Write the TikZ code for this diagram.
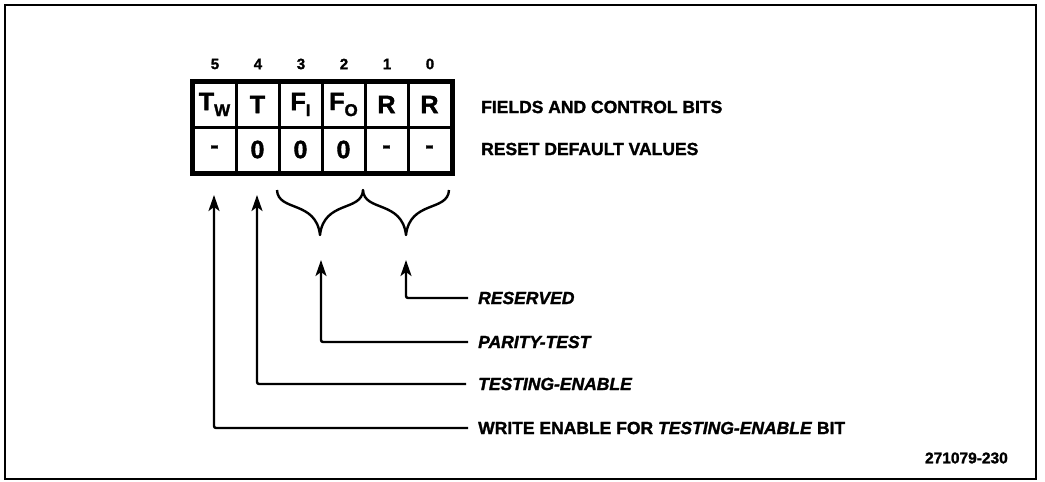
\documentclass[tikz,border=0pt]{standalone}
\usepackage{fontspec}
\setmainfont{Liberation Sans}[BoldFeatures={FakeBold=1.5},BoldItalicFeatures={FakeBold=1.5}]
\usetikzlibrary{arrows.meta}
\begin{document}
\begin{tikzpicture}[x=1pt,y=-1pt,
  cell/.style={draw,line width=3pt,minimum width=43pt,minimum height=45pt,inner sep=0pt,
    font=\fontsize{25}{25}\selectfont\bfseries},
  bitnum/.style={font=\fontsize{15}{15}\selectfont\bfseries,inner sep=0pt},
  lab/.style={anchor=west,inner sep=0pt,font=\fontsize{17.5}{17.5}\selectfont\bfseries},
  ilab/.style={lab,font=\fontsize{17.5}{17.5}\selectfont\bfseries\itshape},
  conn/.style={line width=2.4pt,rounded corners=2pt,
    -{Stealth[length=16pt,width=11pt,inset=4pt]}},
  brace/.style={line width=2.4pt,line join=round}]
\useasboundingbox (0,0) rectangle (1045,482);
\draw[line width=2.5pt] (5,5) rectangle (1036,479);
% bit numbers
\foreach \n/\x in {5/215,4/258,3/301,2/344,1/387,0/430}
  \node[bitnum] (b\n) at (\x,64) {\n};
% top row
\node[cell] (c5a) at (214.5,104.5) {T\raisebox{-6pt}{\fontsize{17}{17}\selectfont W}};
\node[cell] (c4a) at (257.5,104.5) {T};
\node[cell] (c3a) at (300.5,104.5) {F\raisebox{-6pt}{\fontsize{17}{17}\selectfont I}};
\node[cell] (c2a) at (343.5,104.5) {F\raisebox{-6pt}{\fontsize{17}{17}\selectfont O}};
\node[cell] (c1a) at (386.5,104.5) {R};
\node[cell] (c0a) at (429.5,104.5) {R};
% bottom row
\node[cell] (c5b) at (214.5,149.5) {-};
\node[cell] (c4b) at (257.5,149.5) {0};
\node[cell] (c3b) at (300.5,149.5) {0};
\node[cell] (c2b) at (343.5,149.5) {0};
\node[cell] (c1b) at (386.5,149.5) {-};
\node[cell] (c0b) at (429.5,149.5) {-};
\draw[line width=4pt] (c5a.north west) rectangle (c0b.south east);
% row labels
\node[lab] (fields) at (481,107) {FIELDS AND CONTROL BITS};
\node[lab] (reset) at (481,149) {RESET DEFAULT VALUES};
% braces
\coordinate (br1L) at (277,190);
\coordinate (brM) at (363,190);
\coordinate (br2R) at (449,190);
\coordinate (tip1) at (320,235);
\coordinate (tip2) at (406,235);
\draw[brace] (br1L) .. controls (278,212) and (316,200) .. (tip1)
  .. controls (324,200) and (362,212) .. (brM)
  .. controls (364,212) and (402,200) .. (tip2)
  .. controls (410,200) and (448,212) .. (br2R);
% labels
\node[ilab] (reserved) at (478,298) {RESERVED};
\node[ilab] (parity) at (478,342) {PARITY-TEST};
\node[ilab] (testing) at (478,384) {TESTING-ENABLE};
\node[lab] (write) at (478,428) {WRITE ENABLE FOR \textit{TESTING-ENABLE} BIT};
\node[inner sep=0pt,anchor=east,font=\fontsize{15.5}{15.5}\selectfont\bfseries] (fig) at (1008,458) {271079-230};
% arrow tips
\coordinate (a5) at (214,195);
\coordinate (a4) at (257,195);
\coordinate (a3) at (321,260);
\coordinate (a2) at (406,260);
\draw[conn] ([xshift=-10pt]reserved.west) -| (a2);
\draw[conn] ([xshift=-10pt]parity.west) -| (a3);
\draw[conn] ([xshift=-12pt]testing.west) -| (a4);
\draw[conn] ([xshift=-10pt]write.west) -| (a5);
\end{tikzpicture}
\end{document}
